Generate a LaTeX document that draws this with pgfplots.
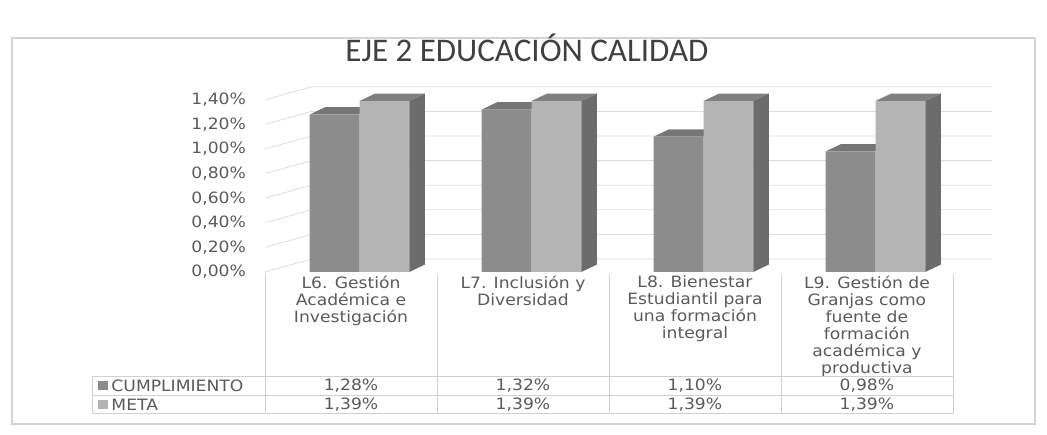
\documentclass[border=0pt]{standalone}
\usepackage{fontspec}
\setmainfont{Carlito}
\newfontfamily\labfont[FakeStretch=1.1]{DejaVu Sans}
\usepackage{pgfplots}
\pgfplotsset{compat=1.18}
\definecolor{cumpl}{HTML}{8C8C8C}
\definecolor{meta}{HTML}{B4B4B4}
\definecolor{metaside}{HTML}{6C6C6C}
\definecolor{cumpltop}{HTML}{767676}
\definecolor{metatop}{HTML}{808080}
\definecolor{txt}{HTML}{5A5A5A}
\definecolor{gridc}{HTML}{DEDEDE}
\definecolor{framec}{HTML}{D4D4D4}
\definecolor{tabc}{HTML}{D0D0D0}
\newcommand{\lab}{\labfont\fontsize{7.8}{8.5}\selectfont}
\begin{document}
\begin{tikzpicture}
\begin{axis}[
  x=86pt, y=61.5pt,
  xmin=-0.5, xmax=3.5, ymin=0, ymax=1.5,
  clip=false,
  axis line style={draw=none},
  tick style={draw=none},
  ytick={0,0.2,0.4,0.6,0.8,1.0,1.2,1.4},
  yticklabels={{0,00\%},{0,20\%},{0,40\%},{0,60\%},{0,80\%},{1,00\%},{1,20\%},{1,40\%}},
  yticklabel style={font=\lab, text=txt, anchor=east, xshift=-6pt},
  xtick={0,1,2,3},
  xticklabels={{L6. Gestión\\Académica e\\Investigación},
               {L7. Inclusión y\\Diversidad},
               {L8. Bienestar\\Estudiantil para\\una formación\\integral},
               {L9. Gestión de\\Granjas como\\fuente de\\formación\\académica y\\productiva}},
  xticklabel style={font=\lab, text=txt, align=center, anchor=north, yshift=1.5pt},
]
% bounding box and frame
\path (axis cs:-2.041,2.211) rectangle (axis cs:4.047,-1.325);
\draw[framec, line width=0.6pt] (axis cs:-1.971,1.902) rectangle (axis cs:3.977,-1.236);
% title
\node[font=\fontsize{16.5}{18}\selectfont, text=black!75] at (axis cs:1.023,1.82) {EJE 2 EDUCACIÓN CALIDAD};
% pseudo 3D wall grid
\draw[gridc] (axis cs:-0.5,0.0) -- (axis cs:-0.23,0.105) -- (axis cs:3.73,0.105);
\draw[gridc] (axis cs:-0.5,0.2) -- (axis cs:-0.23,0.305) -- (axis cs:3.73,0.305);
\draw[gridc] (axis cs:-0.5,0.4) -- (axis cs:-0.23,0.505) -- (axis cs:3.73,0.505);
\draw[gridc] (axis cs:-0.5,0.6) -- (axis cs:-0.23,0.705) -- (axis cs:3.73,0.705);
\draw[gridc] (axis cs:-0.5,0.8) -- (axis cs:-0.23,0.905) -- (axis cs:3.73,0.905);
\draw[gridc] (axis cs:-0.5,1.0) -- (axis cs:-0.23,1.105) -- (axis cs:3.73,1.105);
\draw[gridc] (axis cs:-0.5,1.2) -- (axis cs:-0.23,1.305) -- (axis cs:3.73,1.305);
\draw[gridc] (axis cs:-0.5,1.4) -- (axis cs:-0.23,1.505) -- (axis cs:3.73,1.505);
% top faces of CUMPLIMIENTO bars
\addplot[forget plot, sharp plot, draw=none, fill=cumpltop] coordinates {(-0.24,1.28) (-0.15,1.34) (0.14,1.34) (0.05,1.28)} --cycle;
\addplot[forget plot, sharp plot, draw=none, fill=cumpltop] coordinates {(0.76,1.32) (0.85,1.38) (1.14,1.38) (1.05,1.32)} --cycle;
\addplot[forget plot, sharp plot, draw=none, fill=cumpltop] coordinates {(1.76,1.10) (1.85,1.16) (2.14,1.16) (2.05,1.10)} --cycle;
\addplot[forget plot, sharp plot, draw=none, fill=cumpltop] coordinates {(2.76,0.98) (2.85,1.04) (3.14,1.04) (3.05,0.98)} --cycle;
% front faces
\addplot[ybar, bar width=0.29, bar shift=-0.095, draw=none, fill=cumpl] coordinates {(0,1.28) (1,1.32) (2,1.10) (3,0.98)};
\addplot[ybar, bar width=0.29, bar shift=0.195, draw=none, fill=meta] coordinates {(0,1.39) (1,1.39) (2,1.39) (3,1.39)};
% top and side faces of META bars
\addplot[forget plot, sharp plot, draw=none, fill=metatop] coordinates {(0.05,1.39) (0.14,1.45) (0.43,1.45) (0.34,1.39)} --cycle;
\addplot[forget plot, sharp plot, draw=none, fill=metatop] coordinates {(1.05,1.39) (1.14,1.45) (1.43,1.45) (1.34,1.39)} --cycle;
\addplot[forget plot, sharp plot, draw=none, fill=metatop] coordinates {(2.05,1.39) (2.14,1.45) (2.43,1.45) (2.34,1.39)} --cycle;
\addplot[forget plot, sharp plot, draw=none, fill=metatop] coordinates {(3.05,1.39) (3.14,1.45) (3.43,1.45) (3.34,1.39)} --cycle;
\addplot[forget plot, sharp plot, draw=none, fill=metaside] coordinates {(0.34,0) (0.43,0.06) (0.43,1.45) (0.34,1.39)} --cycle;
\addplot[forget plot, sharp plot, draw=none, fill=metaside] coordinates {(1.34,0) (1.43,0.06) (1.43,1.45) (1.34,1.39)} --cycle;
\addplot[forget plot, sharp plot, draw=none, fill=metaside] coordinates {(2.34,0) (2.43,0.06) (2.43,1.45) (2.34,1.39)} --cycle;
\addplot[forget plot, sharp plot, draw=none, fill=metaside] coordinates {(3.34,0) (3.43,0.06) (3.43,1.45) (3.34,1.39)} --cycle;
% data table lines
\draw[tabc] (axis cs:-1.506,-0.846) -- (axis cs:3.5,-0.846);
\draw[tabc] (axis cs:-1.506,-1.008) -- (axis cs:3.5,-1.008);
\draw[tabc] (axis cs:-1.506,-1.154) -- (axis cs:3.5,-1.154);
\draw[tabc] (axis cs:-1.506,-0.846) -- (axis cs:-1.506,-1.154);
\draw[tabc] (axis cs:-0.5,-0.02) -- (axis cs:-0.5,-1.154);
\draw[tabc] (axis cs:0.5,-0.02) -- (axis cs:0.5,-1.154);
\draw[tabc] (axis cs:1.5,-0.02) -- (axis cs:1.5,-1.154);
\draw[tabc] (axis cs:2.5,-0.02) -- (axis cs:2.5,-1.154);
\draw[tabc] (axis cs:3.5,-0.02) -- (axis cs:3.5,-1.154);
% legend keys
\node[fill=cumpl, minimum width=5pt, minimum height=4.5pt, inner sep=0pt] at (axis cs:-1.44,-0.927) {};
\node[fill=meta, minimum width=5pt, minimum height=4.5pt, inner sep=0pt] at (axis cs:-1.44,-1.081) {};
\node[font=\lab, text=txt, anchor=west, inner sep=0pt] at (axis cs:-1.395,-0.927) {CUMPLIMIENTO};
\node[font=\lab, text=txt, anchor=west, inner sep=0pt] at (axis cs:-1.395,-1.081) {META};
% table values
\node[font=\lab, text=txt] at (axis cs:0,-0.927) {1,28\%};
\node[font=\lab, text=txt] at (axis cs:1,-0.927) {1,32\%};
\node[font=\lab, text=txt] at (axis cs:2,-0.927) {1,10\%};
\node[font=\lab, text=txt] at (axis cs:3,-0.927) {0,98\%};
\node[font=\lab, text=txt] at (axis cs:0,-1.081) {1,39\%};
\node[font=\lab, text=txt] at (axis cs:1,-1.081) {1,39\%};
\node[font=\lab, text=txt] at (axis cs:2,-1.081) {1,39\%};
\node[font=\lab, text=txt] at (axis cs:3,-1.081) {1,39\%};
\end{axis}
\end{tikzpicture}
\end{document}
